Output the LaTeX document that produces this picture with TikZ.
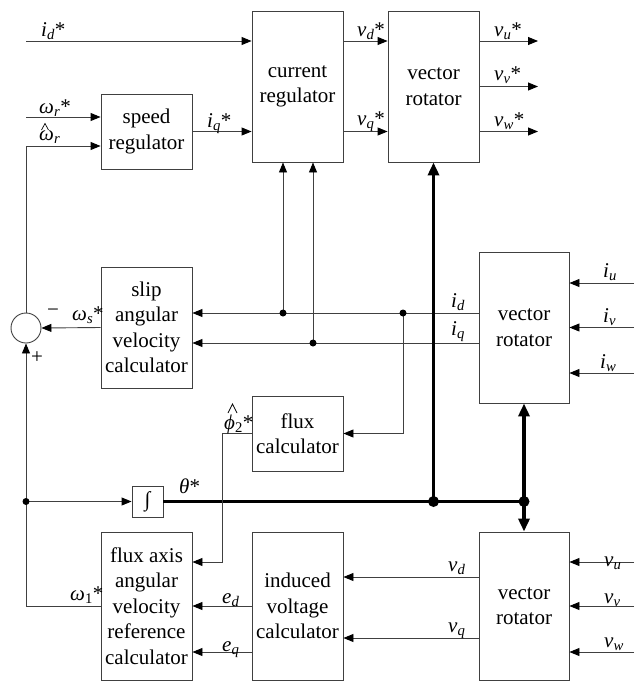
\documentclass[tikz,border=0pt]{standalone}
\usepackage{fontspec}
\setmainfont{Liberation Serif}
\usetikzlibrary{arrows.meta,calc}
\newcommand\lb[3]{\textit{#1}\textsubscript{\textit{#2}}#3}
\begin{document}
\begin{tikzpicture}[x=1pt,y=-1pt,
  every node/.style={font=\fontsize{21}{25.5}\selectfont},
  blk/.style={draw=black!75, line width=0.9pt, minimum width=91pt, align=center, inner sep=0pt},
  ln/.style={draw=black!75, line width=0.9pt},
  arr/.style={ln, -{Triangle[length=10pt,width=8pt,fill=black,color=black]}},
  thk/.style={draw=black, line width=3.5pt},
  tarr/.style={thk, -{Triangle[length=13pt,width=11pt]}},
  dot/.style={circle, fill=black, inner sep=0pt, minimum size=7pt},
  bdot/.style={circle, fill=black, inner sep=0pt, minimum size=11pt},
  hatmark/.style={draw=black, line width=0.7pt},
  lbl/.style={anchor=base west, inner sep=0pt}]
\useasboundingbox (0,0) rectangle (636,683);
% blocks
\node[blk, minimum height=151pt] (cr) at (297.5,86.5) {current\\regulator};
\node[blk, minimum height=151pt] (vr1) at (433.5,86.5) {vector\\rotator};
\node[blk, minimum height=75pt] (sr) at (146.5,131.5) {speed\\regulator};
\node[blk, minimum height=121pt] (slip) at (146.5,327.5) {slip\\angular\\velocity\\calculator};
\node[blk, minimum height=151pt, minimum width=90pt] (vr2) at (524,327.5) {vector\\rotator};
\node[blk, minimum height=75pt] (fc) at (297.5,433.5) {flux\\calculator};
\node[blk, minimum width=31pt, minimum height=31pt] (int) at (147.5,501.5) {∫};
\node[blk, minimum height=148pt] (fa) at (146.5,606) {flux axis\\angular\\velocity\\reference\\calculator};
\node[blk, minimum height=148pt] (iv) at (297.5,606) {induced\\voltage\\calculator};
\node[blk, minimum height=148pt, minimum width=90pt] (vr3) at (524,606) {vector\\rotator};
\node[draw=black!75, line width=0.9pt, circle, minimum size=30pt, inner sep=0pt] (sum) at (26,328) {};
% helper coordinates
\coordinate (idin) at (26,41);
\coordinate (wrin) at (26,117);
\coordinate (y146) at (0,146);
\coordinate (yd) at (0,313);
\coordinate (yq) at (0,343);
\coordinate (y577) at (0,577);
\coordinate (y638) at (0,638);
\coordinate (y652) at (0,652);
\coordinate (ou) at (538,41);
\coordinate (ov) at (538,86.5);
\coordinate (ow) at (538,131.5);
\coordinate (inu) at (634,283);
\coordinate (inv) at (634,327.5);
\coordinate (inw) at (634,373);
\coordinate (vnu) at (634,562);
\coordinate (vnv) at (634,606);
\coordinate (vnw) at (634,652);
\coordinate (j1) at (283,313);
\coordinate (j2) at (313,343);
\coordinate (j3) at (403,313);
\coordinate (jt) at (26,501.5);
\coordinate (j4) at (vr1.south |- int.east);
\coordinate (j5) at (vr2.south |- int.east);
\coordinate (k) at (222,562);
% top
\draw[arr] (idin) -- (idin -| cr.west);
\draw[arr] (wrin) -- (wrin -| sr.west);
\draw[arr] (sum.north) |- (y146 -| sr.west);
\draw[arr] (sr.east) -- (sr.east -| cr.west);
\draw[arr] (idin -| cr.east) -- (idin -| vr1.west);
\draw[arr] (sr.east -| cr.east) -- (sr.east -| vr1.west);
\draw[arr] (idin -| vr1.east) -- (ou);
\draw[arr] (vr1.east) -- (ov);
\draw[arr] (sr.east -| vr1.east) -- (ow);
% middle
\draw[arr] (yd -| vr2.west) -- (yd -| slip.east);
\draw[arr] (yq -| vr2.west) -- (yq -| slip.east);
\draw[arr] (j1) -- (j1 |- cr.south);
\draw[arr] (j2) -- (j2 |- cr.south);
\draw[arr] (j3) |- (fc.east);
\draw[arr] (inu) -- (inu -| vr2.east);
\draw[arr] (inv) -- (vr2.east);
\draw[arr] (inw) -- (inw -| vr2.east);
\draw[arr] (slip.west) -- (sum.east);
\draw[arr] (fa.west) -| (sum.south);
\draw[arr] (jt) -- (int.west);
% theta bus
\draw[thk] (int.east) -- (j5);
\draw[tarr] (j4) -- (vr1.south);
\draw[tarr] (j5) -- (vr2.south);
\draw[tarr] (j5) -- (vr3.north);
% bottom
\draw[arr] (fc.west) -| (k) -- (k -| fa.east);
\draw[arr] (y577 -| vr3.west) -- (y577 -| iv.east);
\draw[arr] (y638 -| vr3.west) -- (y638 -| iv.east);
\draw[arr] (iv.west) -- (fa.east);
\draw[arr] (y652 -| iv.west) -- (y652 -| fa.east);
\draw[arr] (vnu) -- (vnu -| vr3.east);
\draw[arr] (vnv) -- (vr3.east);
\draw[arr] (vnw) -- (vnw -| vr3.east);
% dots
\node[dot] (d1) at (j1) {};
\node[dot] (d2) at (j2) {};
\node[dot] (d3) at (j3) {};
\node[dot] (d4) at (jt) {};
\node[bdot] (d5) at (j4) {};
\node[bdot] (d6) at (j5) {};
% labels
\node[lbl] (l1) at (41,36) {\lb{i}{d}{*}};
\node[lbl] (l2) at (39,113) {\lb{ω}{r}{*}};
\node[lbl] (l3) at (39,140) {\lb{ω}{r}{}};
\draw[hatmark] ($(l3.base west)+(2.5,-10)$) -- ++(3.5,-6.5) -- ++(3.5,6.5);
\node[lbl] (l4) at (207,127) {\lb{i}{q}{*}};
\node[lbl] (l5) at (357,36) {\lb{v}{d}{*}};
\node[lbl] (l6) at (357,125) {\lb{v}{q}{*}};
\node[lbl] (l7) at (494,36) {\lb{v}{u}{*}};
\node[lbl] (l8) at (494,80) {\lb{v}{v}{*}};
\node[lbl] (l9) at (494,126) {\lb{v}{w}{*}};
\node[lbl] (l10) at (451,307) {\lb{i}{d}{}};
\node[lbl] (l11) at (451,335) {\lb{i}{q}{}};
\node[lbl] (l12) at (603,277) {\lb{i}{u}{}};
\node[lbl] (l13) at (603,322) {\lb{i}{v}{}};
\node[lbl] (l14) at (600,368) {\lb{i}{w}{}};
\node[inner sep=0pt] (l15) at (53,313) {−};
\node[lbl] (l16) at (72,320) {\lb{ω}{s}{*}};
\node[inner sep=0pt] (l17) at (37,358) {+};
\node[lbl] (l18) at (224,429) {\textit{ϕ}\textsubscript{2}*};
\draw[hatmark] ($(l18.base west)+(4,-16)$) -- ++(4.5,-9) -- ++(4.5,9);
\node[lbl] (l19) at (179,493) {\textit{θ}*};
\node[lbl] (l20) at (70,600) {\textit{ω}\textsubscript{1}*};
\node[lbl] (l21) at (222,603) {\lb{e}{d}{}};
\node[lbl] (l22) at (222,651) {\lb{e}{q}{}};
\node[lbl] (l23) at (448,571) {\lb{v}{d}{}};
\node[lbl] (l24) at (448,632) {\lb{v}{q}{}};
\node[lbl] (l25) at (604,566) {\lb{v}{u}{}};
\node[lbl] (l26) at (604,603) {\lb{v}{v}{}};
\node[lbl] (l27) at (604,647) {\lb{v}{w}{}};
\end{tikzpicture}
\end{document}
